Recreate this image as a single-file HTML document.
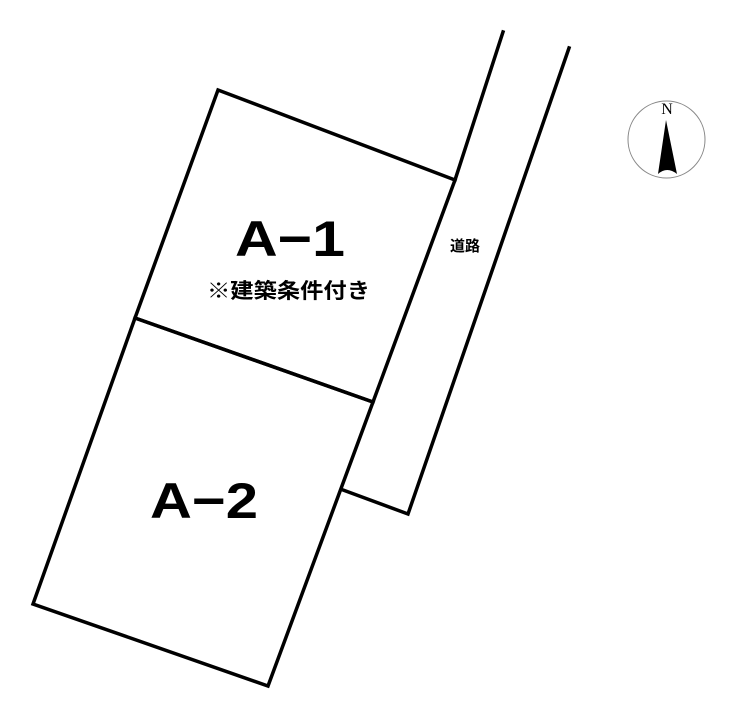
<!DOCTYPE html>
<html><head><meta charset="utf-8"><style>
html,body{margin:0;padding:0;background:#fff;}
svg{display:block;}
</style></head><body>
<svg width="740" height="719" viewBox="0 0 740 719" xmlns="http://www.w3.org/2000/svg">
<g fill="none" stroke="#000" stroke-width="3.5" stroke-linejoin="miter" stroke-linecap="square">
<polygon points="218,90 455,180 373,402 135,318"/>
<polygon points="135,318 373,402 268,686 33,604"/>
<polyline points="503,32 455,180"/>
<polyline points="569,48 408,514 343,490"/>
</g>
<text x="235" y="256" textLength="110" lengthAdjust="spacingAndGlyphs" font-family="Liberation Sans, sans-serif" font-weight="bold" font-size="50">A−1</text>
<text x="207" y="298" textLength="163" lengthAdjust="spacingAndGlyphs" font-family="Liberation Sans, Noto Sans CJK JP, sans-serif" font-weight="bold" font-size="21">※建築条件付き</text>
<text x="150" y="518" textLength="108" lengthAdjust="spacingAndGlyphs" font-family="Liberation Sans, sans-serif" font-weight="bold" font-size="50">A−2</text>
<text x="465" y="251" text-anchor="middle" font-family="Liberation Sans, Noto Sans CJK JP, sans-serif" font-weight="bold" font-size="15">道路</text>
<circle cx="666.5" cy="139.5" r="38.5" fill="none" stroke="#888" stroke-width="1"/>
<text x="667" y="114" text-anchor="middle" font-family="Liberation Serif, serif" font-size="16">N</text>
<path d="M666,120 L677,174 Q667,166 658,174 Z" fill="#000"/>
</svg>
</body></html>
